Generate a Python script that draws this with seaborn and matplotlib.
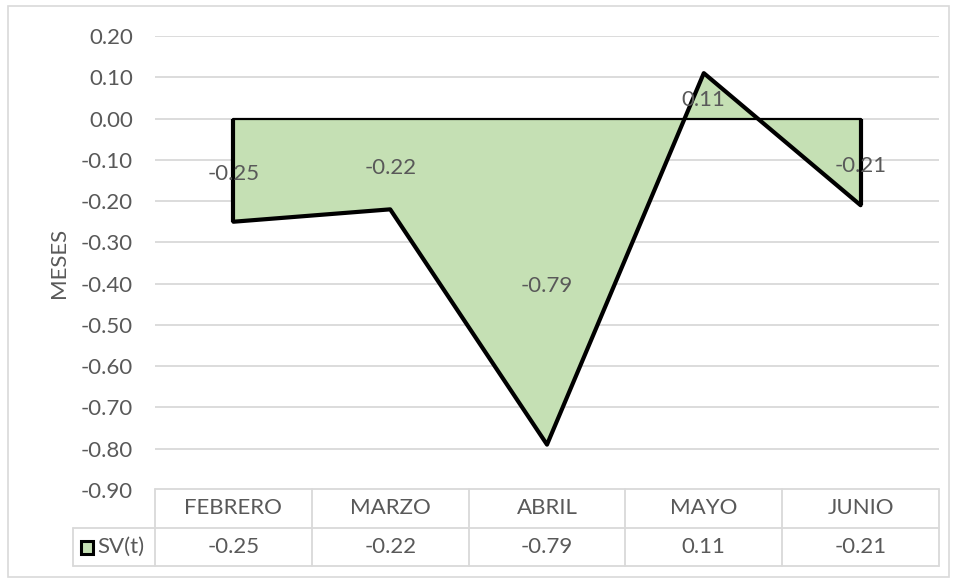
import matplotlib
matplotlib.use("Agg")
import matplotlib.pyplot as plt
import seaborn as sns
import pandas as pd
from matplotlib.lines import Line2D
from matplotlib.patches import Rectangle
import matplotlib.transforms as mtransforms

months = ["FEBRERO", "MARZO", "ABRIL", "MAYO", "JUNIO"]
sv_values = [-0.25, -0.22, -0.79, 0.11, -0.21]
series_name = "SV(t)"
y_ticks = [0.20, 0.10, 0.00, -0.10, -0.20, -0.30, -0.40, -0.50, -0.60, -0.70, -0.80, -0.90]
y_label = "MESES"

sns.set_theme(style="white")
plt.rcParams['font.family'] = ['Lato', 'DejaVu Sans']

TXT = "#595959"
GRID = "#D9D9D9"
FILL = "#C5E0B4"
FS = 16

W, H = 959, 579
fig = plt.figure(figsize=(W / 100, H / 100), dpi=100)

def fx(x):
    return x / W

def fy(y):
    return 1 - y / H

L, R, T, B = 155, 939, 36, 490
ax = fig.add_axes([fx(L), fy(B), fx(R) - fx(L), fy(T) - fy(B)])

df = pd.DataFrame({"pos": range(len(months)), "month": months, "value": sv_values})

ax.set_xlim(-0.5, len(months) - 0.5)
ax.set_ylim(-0.90, 0.20)
for t in y_ticks:
    if t > -0.895:
        ax.axhline(t, color=GRID, lw=1.3, zorder=0)

# area
ax.fill_between(df["pos"], 0, df["value"], color=FILL, zorder=2, lw=0)
# outline
sns.lineplot(data=df, x="pos", y="value", ax=ax, color="black", lw=3.0, zorder=3,
             sort=False, legend=False)
ax.plot([df["pos"].iloc[0]] * 2, [0, df["value"].iloc[0]], color="black", lw=3.0, zorder=3,
        solid_capstyle="butt")
ax.plot([df["pos"].iloc[-1]] * 2, [0, df["value"].iloc[-1]], color="black", lw=3.0, zorder=3,
        solid_capstyle="butt")
ax.plot([df["pos"].iloc[0], df["pos"].iloc[-1]], [0, 0], color="black", lw=1.6, zorder=3)

# data labels
for p, v in zip(df["pos"], df["value"]):
    ax.annotate(f"{v:.2f}", (p, v / 2), xytext=(0, -3), textcoords="offset points",
                ha="center", va="center", color=TXT, fontsize=FS, zorder=4)

ax.set_yticks(y_ticks)
ax.set_yticklabels([f"{t:.2f}" for t in y_ticks], color=TXT, fontsize=FS)
ax.tick_params(axis="y", length=0, pad=16)
ax.set_xticks([])
ax.set_xlabel("")
ax.set_ylabel(y_label, color=TXT, fontsize=FS, labelpad=8)
for s in ax.spines.values():
    s.set_visible(False)

# data table
TB_TOP, TB_MID, TB_BOT, LEG_L = 489, 528, 566, 73
def hline(x0, x1, y):
    fig.add_artist(Line2D([fx(x0), fx(x1)], [fy(y), fy(y)], color=GRID, lw=1.3))
def vline(x, y0, y1):
    fig.add_artist(Line2D([fx(x), fx(x)], [fy(y0), fy(y1)], color=GRID, lw=1.3))

hline(L, R, TB_TOP)
hline(LEG_L, R, TB_MID)
hline(LEG_L, R, TB_BOT)
vline(LEG_L, TB_MID, TB_BOT)
ncol = len(months)
colw = (R - L) / ncol
for i in range(ncol + 1):
    vline(L + i * colw, TB_TOP, TB_BOT)

trans = mtransforms.blended_transform_factory(ax.transData, fig.transFigure)
for p, m, v in zip(df["pos"], months, sv_values):
    fig.text(p, fy((TB_TOP + TB_MID) / 2), m, transform=trans, ha="center", va="center",
             color=TXT, fontsize=FS)
    fig.text(p, fy((TB_MID + TB_BOT) / 2), f"{v:.2f}", transform=trans, ha="center",
             va="center", color=TXT, fontsize=FS)

# legend key in table
fig.add_artist(Rectangle((fx(81), fy(554)), fx(12), fy(541) - fy(554), facecolor=FILL,
                         edgecolor="black", lw=2.2))
fig.text(fx(97), fy((TB_MID + TB_BOT) / 2), series_name, ha="left", va="center",
         color=TXT, fontsize=FS)

# outer chart border
fig.add_artist(Rectangle((fx(8), fy(577)), fx(949) - fx(8), fy(6) - fy(577), fill=False,
                         edgecolor=GRID, lw=1.2))

fig.savefig("out.png", dpi=100)
